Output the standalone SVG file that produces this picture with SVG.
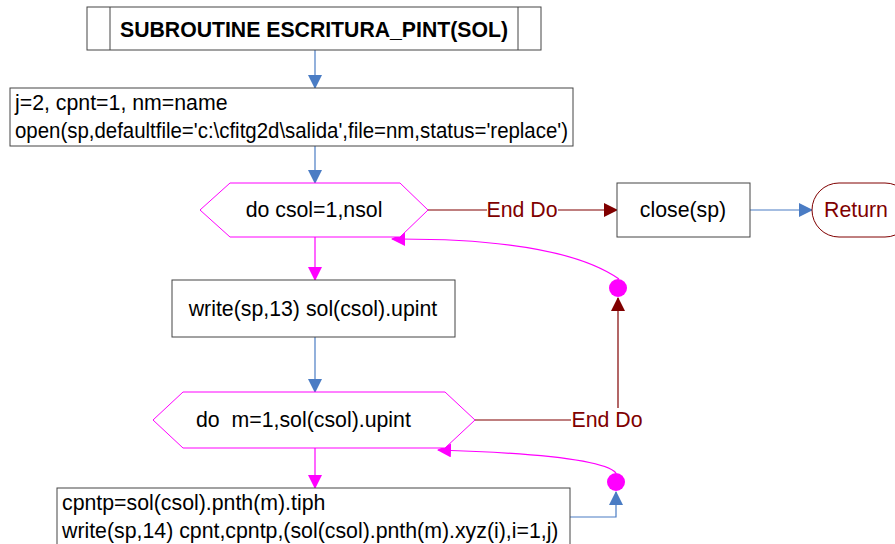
<svg xmlns="http://www.w3.org/2000/svg" width="895" height="544" viewBox="0 0 895 544">
<defs>
<style>
text{font-family:"Liberation Sans",Arial,sans-serif;font-size:21.3px;fill:#000;white-space:pre}
.box{fill:#fff;stroke:#444;stroke-width:1}
.hex{fill:#fff;stroke:#ff00ff;stroke-width:1}
.blue{stroke:#4a7cc4;stroke-width:1.2;fill:none}
.mag{stroke:#ff00ff;stroke-width:1.2;fill:none}
.red{stroke:#800000;stroke-width:1.2;fill:none}
.lbl{fill:#800000}
</style>
<marker id="am" markerWidth="14" markerHeight="14" refX="13" refY="7" orient="auto" markerUnits="userSpaceOnUse"><path d="M0,0L14,7L0,14Z" fill="#ff00ff"/></marker>
<marker id="ar" markerWidth="14" markerHeight="14" refX="13" refY="7" orient="auto" markerUnits="userSpaceOnUse"><path d="M0,0L14,7L0,14Z" fill="#800000"/></marker>
<marker id="ab2" markerWidth="14" markerHeight="14" refX="13" refY="7" orient="auto" markerUnits="userSpaceOnUse"><path d="M0,0L14,7L0,14Z" fill="#4a7cc4"/></marker>
</defs>
<rect width="895" height="544" fill="#fff"/>
<g id="connectors">
<line class="blue" x1="315" y1="50" x2="315" y2="88" marker-end="url(#ab2)"/>
<line class="blue" x1="315" y1="146" x2="315" y2="183" marker-end="url(#ab2)"/>
<line class="red" x1="428" y1="210" x2="487" y2="210"/>
<line class="red" x1="558" y1="210" x2="617" y2="210" marker-end="url(#ar)"/>
<line class="blue" x1="750" y1="210" x2="812" y2="210" marker-end="url(#ab2)"/>
<line class="mag" x1="315" y1="237" x2="315" y2="280" marker-end="url(#am)"/>
<line class="blue" x1="315" y1="337" x2="315" y2="392" marker-end="url(#ab2)"/>
<line class="red" x1="475" y1="420" x2="571" y2="420"/>
<line class="red" x1="618" y1="408" x2="618" y2="298" marker-end="url(#ar)"/>
<path class="mag" d="M619,279 Q560,238 392,239" marker-end="url(#am)"/>
<line class="mag" x1="315" y1="448" x2="315" y2="488" marker-end="url(#am)"/>
<polyline class="blue" points="570,517 616,517 616,492" marker-end="url(#ab2)"/>
<path class="mag" d="M616,473 Q600,455 438,450" marker-end="url(#am)"/>
<text x="522" y="217" text-anchor="middle" class="lbl">End Do</text>
<text x="607" y="427" text-anchor="middle" class="lbl">End Do</text>
</g>
<g id="n_title">
<rect class="box" x="87" y="7" width="454" height="43"/>
<line x1="110" y1="7" x2="110" y2="50" stroke="#444"/>
<line x1="518" y1="7" x2="518" y2="50" stroke="#444"/>
<text x="314" y="37" text-anchor="middle" font-weight="bold" font-size="20.5" textLength="388" lengthAdjust="spacingAndGlyphs">SUBROUTINE ESCRITURA_PINT(SOL)</text>
</g>
<g id="n_init">
<rect class="box" x="10" y="88" width="563" height="58"/>
<text x="15" y="110">j=2, cpnt=1, nm=name</text>
<text x="15" y="138" textLength="553" lengthAdjust="spacingAndGlyphs">open(sp,defaultfile='c:\cfitg2d\salida',file=nm,status='replace')</text>
</g>
<g id="n_do1">
<polygon class="hex" points="200,210 230,183 400,183 428,210 400,237 230,237"/>
<text x="314" y="217" text-anchor="middle">do csol=1,nsol</text>
</g>
<g id="n_close">
<rect class="box" x="617" y="183" width="133" height="54"/>
<text x="683" y="217" text-anchor="middle">close(sp)</text>
</g>
<g id="n_return">
<rect x="812" y="183" width="100" height="54" rx="27" ry="27" fill="#fff" stroke="#800000"/>
<text x="824" y="217" class="lbl">Return</text>
</g>
<g id="n_write13">
<rect class="box" x="172" y="280" width="283" height="57"/>
<text x="313" y="316" text-anchor="middle">write(sp,13) sol(csol).upint</text>
</g>
<g id="n_do2">
<polygon class="hex" points="153,420 183,392 445,392 475,420 445,448 183,448"/>
<text x="196" y="427">do  m=1,sol(csol).upint</text>
</g>
<g id="n_write14">
<rect class="box" x="57" y="488" width="513" height="60"/>
<text x="62" y="510">cpntp=sol(csol).pnth(m).tiph</text>
<text x="62" y="538">write(sp,14) cpnt,cpntp,(sol(csol).pnth(m).xyz(i),i=1,j)</text>
</g>
<g id="dots">
<circle cx="618" cy="288" r="9" fill="#ff00ff"/>
<circle cx="616" cy="482" r="9" fill="#ff00ff"/>
</g>
</svg>
